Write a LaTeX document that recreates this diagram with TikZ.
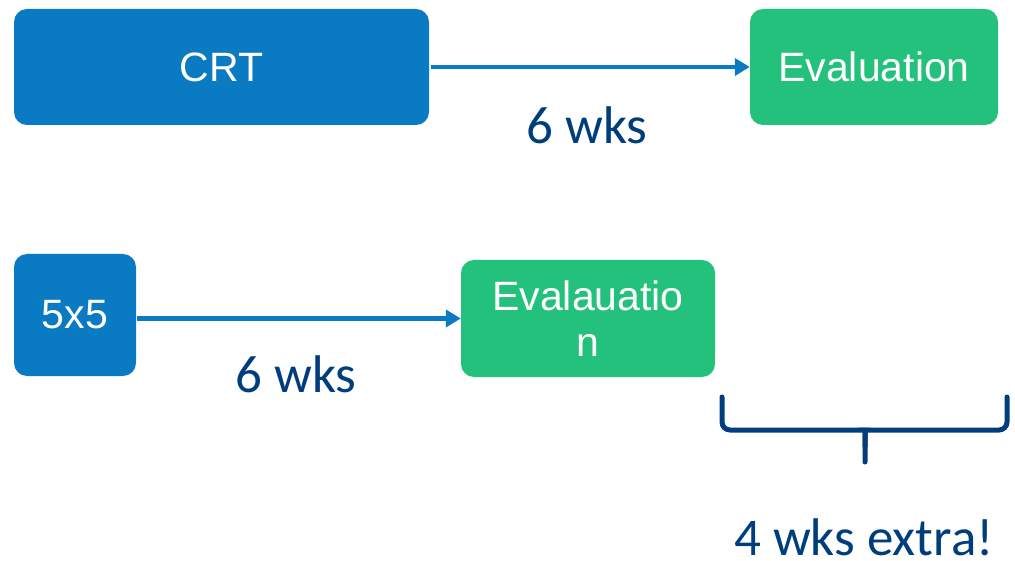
\documentclass[tikz,border=0pt]{standalone}
\usepackage{fontspec}
\setmainfont{Liberation Sans}
\newfontfamily\calib{Carlito}
\usetikzlibrary{arrows.meta}
\definecolor{boxblue}{HTML}{0A7BC2}
\definecolor{boxgreen}{HTML}{24C17C}
\definecolor{txtblue}{HTML}{003D7C}
\tikzset{
  box/.style={rounded corners=13pt, inner sep=0pt, text=white, font=\fontsize{41}{50}\selectfont, align=center},
  bluebox/.style={box, fill=boxblue},
  greenbox/.style={box, fill=boxgreen},
  lbl/.style={text=txtblue, font=\calib\fontsize{53}{60}\selectfont, inner sep=0pt, anchor=base},
  conn/.style={draw=boxblue, line width=4.5pt, -{Triangle[length=15pt,width=17pt]}},
}
\begin{document}
\begin{tikzpicture}[x=1pt,y=-1pt]
\useasboundingbox (0,0) rectangle (1015,561);
\node[bluebox, minimum width=415pt, minimum height=116pt] (crt) at (221.5,67) {CRT};
\node[greenbox, minimum width=248pt, minimum height=116pt] (ev1) at (874,67) {Evaluation};
\node[bluebox, minimum width=122pt, minimum height=122pt] (fx) at (75,315) {5x5};
\node[greenbox, minimum width=254pt, minimum height=117pt] (ev2) at (588,318.5) {Evalauatio\\[-4pt]n};
\draw[conn] ([xshift=2pt]crt.east) -- (ev1.west);
\draw[conn] ([xshift=1pt]fx.east |- ev2.west) -- (ev2.west);
\node[lbl] (w1) at (587,144) {6 wks};
\node[lbl] (w2) at (296,392) {6 wks};
\node[lbl] (w3) at (864,555) {4 wks extra!};
\draw[txtblue, line width=5pt, line cap=round, rounded corners=8pt]
  (722,397) -- (722,430) -- (858,430) .. controls (865,430) and (865,436) .. (865,446) -- (865,462);
\draw[txtblue, line width=5pt, line cap=round, rounded corners=8pt]
  (1007,397) -- (1007,430) -- (872,430) .. controls (866,430) and (865,436) .. (865,446);
\end{tikzpicture}
\end{document}
